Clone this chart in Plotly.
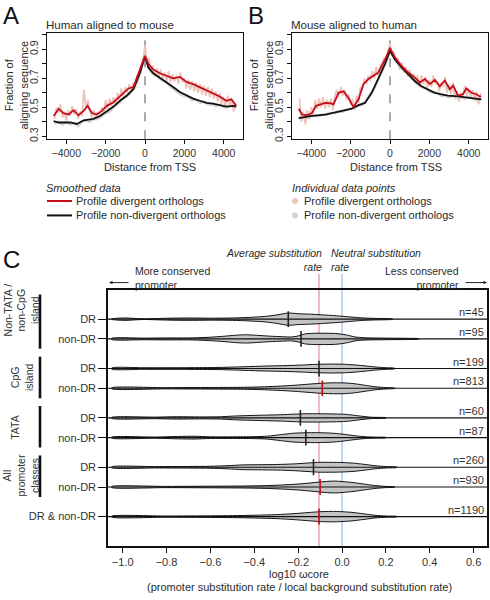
import plotly.graph_objects as go

W, H = 490, 600
FONT = "Liberation Sans, Arial, Helvetica, sans-serif"
TXT = "#2a2a2a"

# ---------------- Panels A & B data ----------------
RAW_START, RAW_STEP = -4600, 100
GREY_START, GREY_STEP = -4600, 200

a_raw_div = [0.42, 0.50, 0.46, 0.52, 0.43, 0.47, 0.41, 0.48, 0.44, 0.51,
             0.45, 0.49, 0.42, 0.47, 0.44, 0.62, 0.50, 0.55, 0.47, 0.43,
             0.48, 0.41, 0.47, 0.44, 0.50, 0.46, 0.55, 0.49, 0.56, 0.51,
             0.57, 0.52, 0.60, 0.55, 0.63, 0.57, 0.64, 0.60, 0.66, 0.61,
             0.67, 0.63, 0.72, 0.70, 0.78, 0.82, 0.93, 0.80, 0.84, 0.74,
             0.79, 0.71, 0.77, 0.70, 0.76, 0.69, 0.74, 0.68, 0.75, 0.67,
             0.73, 0.68, 0.72, 0.66, 0.74, 0.67, 0.70, 0.63, 0.69, 0.62,
             0.68, 0.61, 0.67, 0.60, 0.66, 0.59, 0.65, 0.58, 0.64, 0.57,
             0.63, 0.56, 0.61, 0.54, 0.60, 0.52, 0.57, 0.50, 0.58, 0.51,
             0.56, 0.47, 0.53]
a_raw_non = [0.39, 0.40, 0.38, 0.40, 0.38, 0.39, 0.37, 0.40, 0.41, 0.40,
             0.42, 0.42, 0.44, 0.46, 0.47, 0.50, 0.52, 0.55, 0.57, 0.59,
             0.63, 0.67, 0.76, 0.87, 0.77, 0.73, 0.72, 0.69, 0.68, 0.66,
             0.63, 0.61, 0.59, 0.58, 0.57, 0.55, 0.55, 0.53, 0.54, 0.52,
             0.52, 0.51, 0.52, 0.50, 0.50, 0.51, 0.49]
a_div_x = [-4640, -4390, -4140, -3880, -3630, -3380, -3120, -2920, -2700, -2450,
           -2190, -1940, -1600, -1350, -1100, -840, -590, -340, 0, 170,
           420, 760, 1100, 1430, 1770, 2110, 2450, 2780, 3120, 3460,
           3800, 4130, 4390, 4640]
a_div_y = [0.44, 0.49, 0.46, 0.45, 0.48, 0.445, 0.475, 0.51, 0.46, 0.45,
           0.475, 0.51, 0.535, 0.565, 0.595, 0.63, 0.64, 0.73, 0.855, 0.80,
           0.76, 0.735, 0.715, 0.70, 0.71, 0.675, 0.66, 0.64, 0.62, 0.60,
           0.575, 0.545, 0.555, 0.51]
a_non_x = [-4640, -4390, -3800, -3460, -3120, -2620, -2280, -1940, -1600, -1270,
           -930, -590, -250, 0, 170, 420, 760, 1100, 1430, 1770,
           2110, 2450, 2780, 3120, 3460, 3800, 4130, 4470, 4640]
a_non_y = [0.405, 0.395, 0.395, 0.385, 0.41, 0.42, 0.44, 0.47, 0.505, 0.545,
           0.58, 0.625, 0.74, 0.85, 0.775, 0.735, 0.705, 0.675, 0.64, 0.605,
           0.58, 0.56, 0.545, 0.53, 0.525, 0.515, 0.505, 0.51, 0.505]

b_raw_div = [0.56, 0.40, 0.47, 0.38, 0.48, 0.42, 0.50, 0.45, 0.55, 0.49,
             0.56, 0.50, 0.57, 0.49, 0.55, 0.50, 0.56, 0.48, 0.58, 0.62,
             0.57, 0.64, 0.58, 0.62, 0.55, 0.59, 0.52, 0.56, 0.48, 0.58,
             0.53, 0.64, 0.62, 0.70, 0.66, 0.72, 0.68, 0.75, 0.70, 0.78,
             0.72, 0.79, 0.80, 0.84, 0.83, 0.89, 0.94, 0.86, 0.88, 0.81,
             0.84, 0.76, 0.81, 0.74, 0.78, 0.71, 0.76, 0.69, 0.73, 0.66,
             0.72, 0.64, 0.72, 0.66, 0.71, 0.63, 0.69, 0.64, 0.72, 0.66,
             0.68, 0.61, 0.67, 0.64, 0.71, 0.60, 0.66, 0.59, 0.67, 0.56,
             0.61, 0.54, 0.60, 0.57, 0.65, 0.58, 0.63, 0.56, 0.62, 0.55,
             0.61, 0.52, 0.60]
b_raw_non = [0.42, 0.43, 0.43, 0.44, 0.44, 0.44, 0.45, 0.45, 0.46, 0.46,
             0.47, 0.47, 0.48, 0.49, 0.50, 0.51, 0.52, 0.55, 0.59, 0.63,
             0.69, 0.75, 0.82, 0.90, 0.84, 0.80, 0.77, 0.74, 0.72, 0.69,
             0.66, 0.64, 0.63, 0.61, 0.60, 0.60, 0.58, 0.58, 0.57, 0.58,
             0.57, 0.57, 0.56, 0.57, 0.56, 0.55, 0.56]
b_div_x = [-4640, -4470, -4220, -3970, -3760, -3550, -3290, -3040, -2870, -2620,
           -2360, -2110, -1860, -1600, -1350, -1100, -840, -590, -250, 0,
           250, 590, 930, 1270, 1520, 1770, 2030, 2280, 2530, 2780,
           3040, 3210, 3460, 3710, 3880, 4140, 4390, 4560, 4640]
b_div_y = [0.49, 0.45, 0.445, 0.46, 0.51, 0.52, 0.53, 0.528, 0.52, 0.60,
           0.61, 0.565, 0.50, 0.555, 0.66, 0.695, 0.715, 0.74, 0.83, 0.91,
           0.845, 0.785, 0.74, 0.705, 0.67, 0.695, 0.66, 0.69, 0.645, 0.685,
           0.625, 0.65, 0.58, 0.59, 0.63, 0.60, 0.59, 0.575, 0.575]
b_non_x = [-4640, -3970, -3290, -2620, -1940, -1600, -1270, -930, -590, -250,
           0, 250, 590, 930, 1270, 1600, 1940, 2280, 2620, 2950,
           3460, 3970, 4470, 4640]
b_non_y = [0.425, 0.44, 0.45, 0.47, 0.49, 0.515, 0.53, 0.60, 0.695, 0.80,
           0.89, 0.83, 0.775, 0.73, 0.68, 0.645, 0.62, 0.60, 0.59, 0.58,
           0.575, 0.565, 0.56, 0.555]

panel_titles = ["Human aligned to mouse", "Mouse aligned to human"]
x_ticks_ab = [-4000, -2000, 0, 2000, 4000]
y_ticks_ab = [0.3, 0.4, 0.5, 0.6, 0.7, 0.8, 0.9, 1.0]
y_ticklabels_ab = ["0.3", "", "0.5", "", "0.7", "", "0.9", ""]

# ---------------- Panel C data ----------------
group_names = ["Non-TATA /<br>non-CpG<br>island", "CpG<br>island", "TATA",
               "All<br>promoter<br>classes", ""]
group_sizes = [2, 2, 2, 2, 1]
row_labels = ["DR", "non-DR", "DR", "non-DR", "DR", "non-DR", "DR", "non-DR",
              "DR & non-DR"]
row_n = [45, 95, 199, 813, 60, 87, 260, 930, 1190]
row_median = [-0.245, -0.187, -0.105, -0.09, -0.19, -0.165, -0.13, -0.10, -0.105]
row_median_red = [False, False, False, True, False, False, False, True, True]
avg_rate = -0.105
neutral_rate = 0.0
c_x_ticks = [-1.0, -0.8, -0.6, -0.4, -0.2, 0.0, 0.2, 0.4, 0.6]

# violin profiles: x positions and half-widths (in row units)
viol_x = [
    [-1.05, -1.02, -0.98, -0.95, -0.9, -0.85, -0.78, -0.7, -0.6, -0.5, -0.42, -0.35,
     -0.3, -0.245, -0.2, -0.14, -0.1, -0.05, 0.0, 0.05, 0.1, 0.15, 0.2, 0.23],
    [-1.05, -0.9, -0.8, -0.7, -0.62, -0.55, -0.48, -0.44, -0.4, -0.33, -0.27, -0.23,
     -0.2, -0.17, -0.13, -0.08, -0.03, 0.02, 0.06, 0.1, 0.2, 0.3, 0.35],
    [-1.05, -0.9, -0.75, -0.6, -0.54, -0.45, -0.35, -0.25, -0.18, -0.12, -0.06, 0.0,
     0.05, 0.1, 0.15, 0.2, 0.24],
    [-1.05, -0.8, -0.6, -0.45, -0.37, -0.3, -0.22, -0.15, -0.1, -0.05, 0.0, 0.05,
     0.1, 0.15, 0.2, 0.24],
    [-1.05, -0.85, -0.75, -0.65, -0.55, -0.5, -0.42, -0.35, -0.28, -0.22, -0.17, -0.1,
     -0.04, 0.02, 0.06, 0.1, 0.14, 0.2],
    [-1.05, -0.85, -0.75, -0.67, -0.6, -0.5, -0.4, -0.34, -0.28, -0.22, -0.15, -0.1,
     -0.05, 0.0, 0.05, 0.1, 0.15, 0.2],
    [-1.05, -0.85, -0.7, -0.6, -0.52, -0.45, -0.38, -0.3, -0.22, -0.15, -0.1, -0.05,
     0.0, 0.05, 0.1, 0.15, 0.2, 0.25],
    [-1.05, -0.8, -0.6, -0.45, -0.35, -0.28, -0.2, -0.14, -0.08, -0.04, 0.0, 0.05,
     0.1, 0.15, 0.2, 0.24],
    [-1.05, -0.8, -0.6, -0.5, -0.4, -0.3, -0.22, -0.15, -0.1, -0.05, 0.0, 0.05,
     0.1, 0.15, 0.2, 0.25],
]
viol_hw = [
    [0.02, 0.1, 0.12, 0.08, 0.03, 0.06, 0.1, 0.12, 0.1, 0.12, 0.18, 0.28,
     0.42, 0.62, 0.55, 0.5, 0.45, 0.38, 0.3, 0.2, 0.12, 0.08, 0.06, 0.02],
    [0.06, 0.08, 0.1, 0.1, 0.15, 0.25, 0.38, 0.42, 0.38, 0.28, 0.22, 0.2,
     0.3, 0.5, 0.57, 0.57, 0.55, 0.4, 0.2, 0.12, 0.08, 0.06, 0.02],
    [0.06, 0.08, 0.08, 0.1, 0.12, 0.18, 0.25, 0.3, 0.36, 0.42, 0.45, 0.44,
     0.38, 0.28, 0.16, 0.08, 0.03],
    [0.05, 0.06, 0.08, 0.1, 0.14, 0.2, 0.3, 0.42, 0.5, 0.55, 0.55, 0.48,
     0.32, 0.16, 0.07, 0.02],
    [0.05, 0.08, 0.12, 0.1, 0.12, 0.18, 0.24, 0.28, 0.32, 0.38, 0.42, 0.42,
     0.4, 0.35, 0.25, 0.14, 0.06, 0.02],
    [0.05, 0.06, 0.12, 0.14, 0.08, 0.08, 0.1, 0.15, 0.3, 0.45, 0.5, 0.5,
     0.46, 0.36, 0.22, 0.1, 0.05, 0.02],
    [0.05, 0.07, 0.08, 0.1, 0.16, 0.24, 0.26, 0.28, 0.34, 0.44, 0.5, 0.5,
     0.48, 0.42, 0.3, 0.16, 0.07, 0.02],
    [0.05, 0.06, 0.08, 0.1, 0.14, 0.2, 0.3, 0.42, 0.55, 0.6, 0.56, 0.45,
     0.3, 0.15, 0.06, 0.02],
    [0.05, 0.06, 0.08, 0.1, 0.14, 0.2, 0.3, 0.42, 0.5, 0.53, 0.5, 0.42,
     0.28, 0.14, 0.06, 0.02],
]

# ---------------- helpers ----------------
def pxx(p):
    return p / W

def pxy(p):
    return 1 - p / H

RED = "rgb(200,12,28)"
PINK_RAW = "rgb(238,196,186)"
GREY_RAW = "rgb(212,212,212)"

fig = go.Figure()

# ----- Panels A, B -----
panels = [
    ("x", "y", a_raw_div, a_raw_non, a_div_x, a_div_y, a_non_x, a_non_y),
    ("x2", "y2", b_raw_div, b_raw_non, b_div_x, b_div_y, b_non_x, b_non_y),
]
for xa, ya, rd, rn, dx, dy, nx, ny in panels:
    fig.add_trace(go.Scatter(x=[GREY_START + GREY_STEP * i for i in range(len(rn))], y=rn,
                             mode="lines", line=dict(color=GREY_RAW, width=2.5),
                             xaxis=xa, yaxis=ya, showlegend=False, hoverinfo="skip"))
    fig.add_trace(go.Scatter(x=[RAW_START + RAW_STEP * i for i in range(len(rd))], y=rd,
                             mode="lines", line=dict(color=PINK_RAW, width=1.8),
                             xaxis=xa, yaxis=ya, showlegend=False, hoverinfo="skip"))
    fig.add_trace(go.Scatter(x=nx, y=ny, mode="lines", line=dict(color="#111", width=1.8),
                             xaxis=xa, yaxis=ya, showlegend=False))
    fig.add_trace(go.Scatter(x=dx, y=dy, mode="lines", line=dict(color=RED, width=1.8),
                             xaxis=xa, yaxis=ya, showlegend=False))

# ----- Panel C rows -----
row_pos = []
p = 0
for size in group_sizes:
    p += 3
    for k in range(size):
        if k > 0:
            p += 2
        row_pos.append(p)
c_ymax = p + 3

shapes = []
annotations = []

# vertical rate lines
for val, col in [(avg_rate, "rgb(236,170,186)"), (neutral_rate, "rgb(176,206,232)")]:
    shapes.append(dict(type="line", xref="x3", yref="paper", x0=val, x1=val,
                       y0=pxy(549), y1=pxy(275), line=dict(color=col, width=1.6), layer="below"))

for i, r in enumerate(row_pos):
    xs = viol_x[i]
    hw = viol_hw[i]
    xp = xs + xs[::-1] + [xs[0]]
    yp = [r - h for h in hw] + [r + h for h in hw[::-1]] + [r - hw[0]]
    fig.add_trace(go.Scatter(x=xp, y=yp, mode="lines", fill="toself",
                             fillcolor="rgb(196,196,196)",
                             line=dict(color="#111", width=1, shape="spline", smoothing=0.8),
                             xaxis="x3", yaxis="y3", showlegend=False, hoverinfo="skip"))
    shapes.append(dict(type="line", xref="x3 domain", yref="y3", x0=0, x1=1, y0=r, y1=r,
                       line=dict(color="#111", width=1.1)))
    mcol = "rgb(190,10,20)" if row_median_red[i] else "#222"
    shapes.append(dict(type="line", xref="x3", yref="y3", x0=row_median[i], x1=row_median[i],
                       y0=r - 0.8, y1=r + 0.8, line=dict(color=mcol, width=1.6)))
    annotations.append(dict(text="n=%d" % row_n[i], xref="x3 domain", yref="y3", x=1, y=r,
                            xanchor="right", yanchor="middle", xshift=-1, yshift=7,
                            showarrow=False, font=dict(size=11, color="#333")))

# group bars and labels
group_label_pos = [(21, 312), (22, 379), (15, 430), (21, 478)]
idx = 0
for g, size in enumerate(group_sizes):
    rows = row_pos[idx: idx + size]
    idx += size
    if not group_names[g]:
        continue
    top_pad = 2.5 if g == 0 else 1.2
    shapes.append(dict(type="line", xref="paper", yref="y3", x0=pxx(40), x1=pxx(40),
                       y0=rows[0] - top_pad, y1=rows[-1] + 1.0,
                       line=dict(color="#111", width=2.6)))
    lx, ly = group_label_pos[g]
    annotations.append(dict(text=group_names[g], xref="paper", yref="paper",
                            x=pxx(lx), y=pxy(ly), textangle=-90, showarrow=False,
                            xanchor="center", yanchor="middle", borderpad=0,
                            font=dict(size=10.5, color="#333")))

# ----- A/B decorations -----
for xa in ["x", "x2"]:
    ya = "y" if xa == "x" else "y2"
    shapes.append(dict(type="line", xref=xa, yref=ya + " domain", x0=0, x1=0, y0=0, y1=1,
                       line=dict(color="#555", width=1, dash="dash"), layer="below"))

# legends
shapes.append(dict(type="line", xref="paper", yref="paper", x0=pxx(47), x1=pxx(72),
                   y0=pxy(202), y1=pxy(202), line=dict(color=RED, width=2)))
shapes.append(dict(type="line", xref="paper", yref="paper", x0=pxx(47), x1=pxx(72),
                   y0=pxy(216.5), y1=pxy(216.5), line=dict(color="#111", width=2)))
for yy, col in [(202, PINK_RAW), (216.5, GREY_RAW)]:
    shapes.append(dict(type="circle", xref="paper", yref="paper",
                       x0=pxx(292), x1=pxx(298), y0=pxy(yy + 3), y1=pxy(yy - 3),
                       fillcolor=col, line=dict(width=0)))

def ann(text, x, y, xanchor="left", size=11, italic=False, color=TXT, angle=0, align="left"):
    annotations.append(dict(text=text, xref="paper", yref="paper", x=pxx(x), y=pxy(y),
                            xanchor=xanchor, yanchor="middle", showarrow=False,
                            textangle=angle, align=align, borderpad=0,
                            font=dict(size=size, color=color,
                                      style="italic" if italic else "normal")))

ann("A", 2, 16, size=24, color="#111")
ann("B", 247, 16, size=24, color="#111")
ann("C", 2, 261, size=24, color="#111")
ann(panel_titles[0], 45, 25, size=11.5)
ann(panel_titles[1], 290, 25, size=11.5)
ann("Fraction of<br>aligning sequence", 16, 86, xanchor="center", angle=-90, align="center")
ann("Fraction of<br>aligning sequence", 261, 86, xanchor="center", angle=-90, align="center")
ann("Distance from TSS", 150, 168, xanchor="center")
ann("Distance from TSS", 396, 168, xanchor="center")
ann("Smoothed data", 45, 189, italic=True)
ann("Profile divergent orthologs", 75, 202)
ann("Profile non-divergent orthologs", 75, 216.5)
ann("Individual data points", 291, 189, italic=True)
ann("Profile divergent orthologs", 303, 202)
ann("Profile non-divergent orthologs", 303, 216.5)

ann("Average substitution<br>rate", 323, 261, xanchor="right", italic=True, size=10.5,
    align="right")
ann("Neutral substitution<br>rate", 330, 261, italic=True, size=10.5)
ann("More conserved<br>promoter", 134, 279.5, size=10.5)
ann("Less conserved<br>promoter", 460, 279.5, xanchor="right", size=10.5, align="right")
ann("log10 \u03c9core", 299, 577, xanchor="center")
ann("(promoter substitution rate / local background substitution rate)", 299, 590,
    xanchor="center")

for hx, tail in [(109, 21), (487, -23)]:
    annotations.append(dict(text="", xref="paper", yref="paper", x=pxx(hx), y=pxy(284),
                            ax=tail, ay=0, showarrow=True, arrowhead=2, arrowsize=0.7,
                            arrowwidth=1, arrowcolor="#222", standoff=0, startstandoff=0))

axis_common = dict(showgrid=False, zeroline=False, showline=True, mirror=True,
                   linecolor="#111", linewidth=1.1, ticks="outside", ticklen=4,
                   tickcolor="#111", tickfont=dict(size=10.5, color="#333"))

layout_axes = {}
for k, (x0, x1) in enumerate([(47, 243), (292, 488)], start=1):
    sx = "" if k == 1 else str(k)
    layout_axes["xaxis" + sx] = dict(axis_common, domain=[pxx(x0), pxx(x1)],
                                     range=[-4980, 4980], tickvals=x_ticks_ab,
                                     anchor="y" + sx)
    layout_axes["yaxis" + sx] = dict(axis_common, domain=[pxy(140), pxy(33)],
                                     range=[0.279, 1.014], tickvals=y_ticks_ab,
                                     ticktext=y_ticklabels_ab, tickangle=-90,
                                     anchor="x" + sx)

layout_axes["xaxis3"] = dict(axis_common, domain=[pxx(108), pxx(487)],
                             range=[-1.067, 0.661], tickvals=c_x_ticks, tickformat=".1f",
                             anchor="y3", linewidth=1.5, ticklen=5,
                             tickfont=dict(size=11, color="#333"))
layout_axes["yaxis3"] = dict(axis_common, domain=[pxy(549), pxy(291)],
                             range=[c_ymax, 0], tickvals=row_pos, ticktext=row_labels,
                             anchor="x3", linewidth=1.5, ticklen=8, tickwidth=1.1,
                             tickfont=dict(size=11, color="#333"))

fig.update_layout(
    width=W, height=H, margin=dict(l=0, r=0, t=0, b=0),
    paper_bgcolor="white", plot_bgcolor="white",
    font=dict(family=FONT, color=TXT),
    showlegend=False, shapes=shapes, annotations=annotations,
    **layout_axes,
)

fig.write_html("out.html", config=dict(displayModeBar=False),
               post_script="document.body.style.margin='0';"
                           "document.body.style.overflow='hidden';")
